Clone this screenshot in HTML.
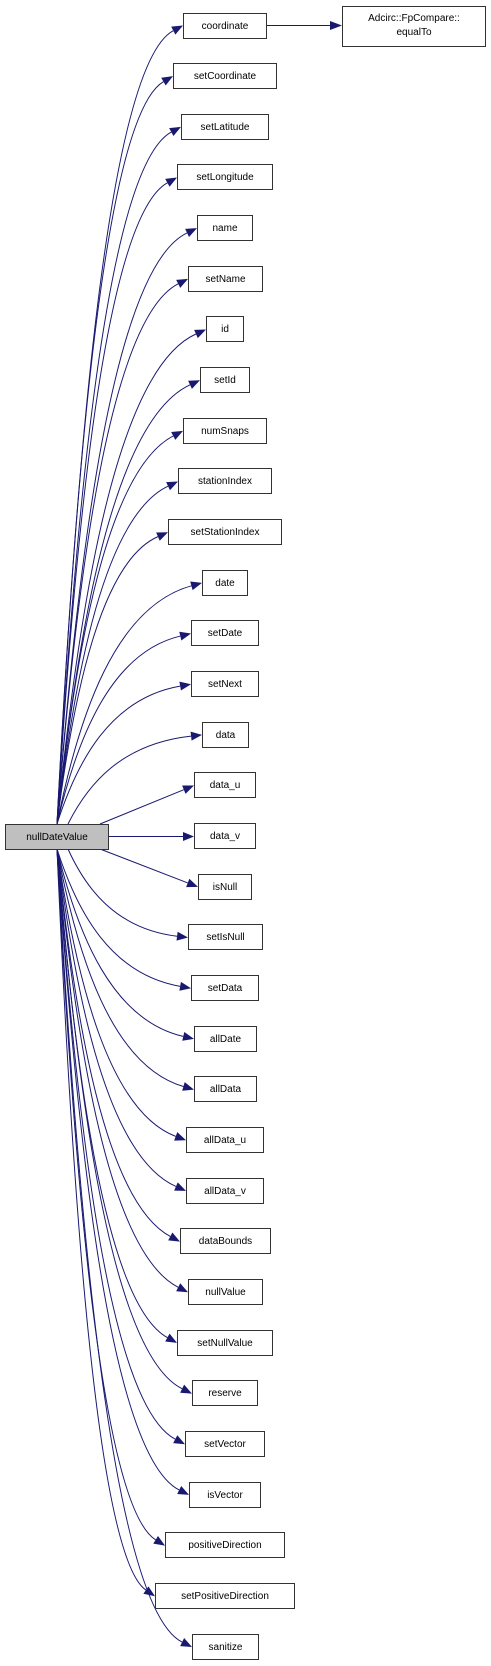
<!DOCTYPE html>
<html><head><meta charset="utf-8"><style>
html,body{margin:0;padding:0;background:#fff;}
body{width:491px;height:1666px;position:relative;overflow:hidden;font-family:"Liberation Sans",Arial,sans-serif;}
.n{position:absolute;box-sizing:border-box;height:26px;border:1px solid #333;background:#fff;font-size:10px;line-height:25px;text-align:center;color:#000;white-space:nowrap;}
svg{position:absolute;left:0;top:0;}
</style></head><body>
<svg id="s" width="491" height="1666" viewBox="0 0 491 1666">
<path d="M267,25.5 L330,25.5" stroke="#191970" stroke-width="1" fill="none"/>
<polygon points="342,25.5 330,21 330,30" fill="#191970"/>
</svg>
<div class="n" style="left:5px;top:824px;width:104px;background:#bfbfbf;">nullDateValue</div>
<div class="n" style="left:342px;top:6px;width:144px;height:41px;line-height:14px;padding-top:5px;">Adcirc::FpCompare::<br>equalTo</div>
<div class="n" style="left:183px;top:13px;width:84px">coordinate</div>
<div class="n" style="left:173px;top:63px;width:104px">setCoordinate</div>
<div class="n" style="left:181px;top:114px;width:88px">setLatitude</div>
<div class="n" style="left:177px;top:164px;width:96px">setLongitude</div>
<div class="n" style="left:197px;top:215px;width:56px">name</div>
<div class="n" style="left:188px;top:266px;width:75px">setName</div>
<div class="n" style="left:206px;top:316px;width:38px">id</div>
<div class="n" style="left:200px;top:367px;width:50px">setId</div>
<div class="n" style="left:183px;top:418px;width:84px">numSnaps</div>
<div class="n" style="left:178px;top:468px;width:94px">stationIndex</div>
<div class="n" style="left:168px;top:519px;width:114px">setStationIndex</div>
<div class="n" style="left:202px;top:570px;width:46px">date</div>
<div class="n" style="left:191px;top:620px;width:68px">setDate</div>
<div class="n" style="left:191px;top:671px;width:68px">setNext</div>
<div class="n" style="left:202px;top:722px;width:47px">data</div>
<div class="n" style="left:194px;top:772px;width:62px">data_u</div>
<div class="n" style="left:194px;top:823px;width:62px">data_v</div>
<div class="n" style="left:198px;top:874px;width:54px">isNull</div>
<div class="n" style="left:188px;top:924px;width:75px">setIsNull</div>
<div class="n" style="left:191px;top:975px;width:68px">setData</div>
<div class="n" style="left:194px;top:1026px;width:63px">allDate</div>
<div class="n" style="left:194px;top:1076px;width:63px">allData</div>
<div class="n" style="left:186px;top:1127px;width:78px">allData_u</div>
<div class="n" style="left:186px;top:1178px;width:78px">allData_v</div>
<div class="n" style="left:180px;top:1228px;width:91px">dataBounds</div>
<div class="n" style="left:188px;top:1279px;width:75px">nullValue</div>
<div class="n" style="left:177px;top:1330px;width:96px">setNullValue</div>
<div class="n" style="left:192px;top:1380px;width:66px">reserve</div>
<div class="n" style="left:185px;top:1431px;width:80px">setVector</div>
<div class="n" style="left:189px;top:1482px;width:72px">isVector</div>
<div class="n" style="left:165px;top:1532px;width:120px">positiveDirection</div>
<div class="n" style="left:155px;top:1583px;width:140px">setPositiveDirection</div>
<div class="n" style="left:192px;top:1634px;width:67px">sanitize</div>
<script>
(function(){
var xs=[183,173,181,177,197,188,206,200,183,178,168,202,191,191,202,194,194,198,188,191,194,194,186,186,180,188,177,192,185,189,165,155,192];
var s=document.getElementById('s');var ns='http://www.w3.org/2000/svg';
for(var i=0;i<33;i++){
 if(i==16){continue;}
 var ey=25.5+i*50.67, ex=xs[i];
 var up=i<16, sy=up?824:849, sx=57;
 if(i==15||i==17)sx=100; else if(i==14||i==18)sx=68;
 var dy=Math.abs(sy-ey), sg=up?-1:1, w=ex-sx;
 var tx=ex, ty=ey;
 var p1x=sx+w*0.15, p1y=sy+sg*dy*0.45;
 var p2x=sx+w*0.4, p2y=ey-sg*Math.min(dy*0.1,40);
 if(i==15||i==17){p1x=sx+w*0.3;p1y=sy+(ey-sy)*0.3;p2x=sx+w*0.6;p2y=sy+(ey-sy)*0.6;}
 var ddx=tx-p2x, ddy=ty-p2y, L=Math.sqrt(ddx*ddx+ddy*ddy); ddx/=L; ddy/=L;
 var bx=tx-ddx*11, by=ty-ddy*11;
 var p=document.createElementNS(ns,'path');
 p.setAttribute('d','M'+sx+','+sy+' C'+p1x+','+p1y+' '+p2x+','+p2y+' '+bx+','+by);
 p.setAttribute('stroke','#191970');p.setAttribute('fill','none');p.setAttribute('stroke-width','1');
 s.appendChild(p);
 var g=document.createElementNS(ns,'polygon');
 var nx=-ddy, ny=ddx;
 g.setAttribute('points',tx+','+ty+' '+(bx+nx*4.5)+','+(by+ny*4.5)+' '+(bx-nx*4.5)+','+(by-ny*4.5));
 g.setAttribute('fill','#191970');s.appendChild(g);
}
var p=document.createElementNS(ns,'path');p.setAttribute('d','M109,836.5 L183,836.5');p.setAttribute('stroke','#191970');s.appendChild(p);
var g=document.createElementNS(ns,'polygon');g.setAttribute('points','194,836.5 183,832 183,841');g.setAttribute('fill','#191970');s.appendChild(g);
})();
</script>
</body></html>
